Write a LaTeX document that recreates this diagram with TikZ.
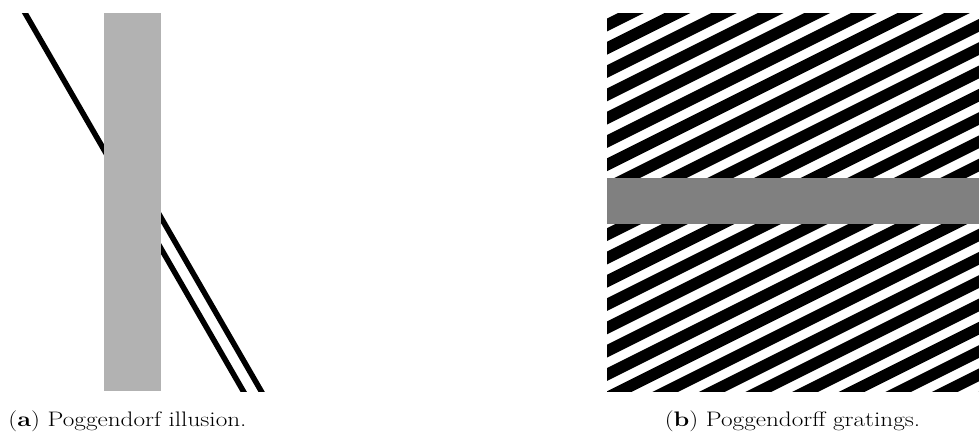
\documentclass[tikz,border=0pt]{standalone}
\begin{document}
\begin{tikzpicture}[
    x=1pt, y=-1pt,
    line_style/.style={line width=5.5pt, black},
    stripe_style/.style={line width=11.5pt, black},
    caption_style/.style={font=\fontsize{21}{24}\selectfont, inner sep=0pt, anchor=base}
]
\useasboundingbox (0,0) rectangle (979,437);
% Panneau a : illusion de Poggendorff
\begin{scope}
    \clip (0,13) rectangle (300,391);
    \draw[line_style] (20,4.3) -- (130,194.8);
    \draw[line_style] (140,212.2) -- (248.4,400);
    \draw[line_style] (140,181.2) -- (266.3,400);
\end{scope}
\fill[black!30] (104,13) rectangle (161,391);
% Panneau b : reseau de Poggendorff
\begin{scope}
    \clip (607,13) rectangle (979,391);
    \foreach \n in {13,...,38} {
        \draw[stripe_style] (600,{2.25+23.3*\n-300}) -- (986,{2.25+23.3*\n-493});
    }
\end{scope}
\fill[black!50] (607,178) rectangle (979,224);
% Legendes
\node[caption_style] (cap_a) at (127.5,426) {\scalebox{1.2}[1]{(\textbf{a}) Poggendorf illusion.}};
\node[caption_style] (cap_b) at (792.5,426) {\scalebox{1.2}[1]{(\textbf{b}) Poggendorff gratings.}};
\end{tikzpicture}
\end{document}
